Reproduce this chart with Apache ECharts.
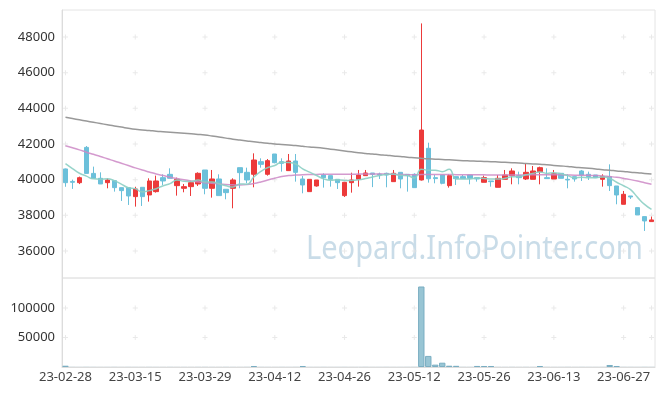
<!DOCTYPE html>
<html>
<head>
<meta charset="utf-8">
<script src="https://cdn.jsdelivr.net/npm/echarts@6/dist/echarts.min.js"></script>
<style>
html,body{margin:0;padding:0;background:#fff;}
#chart{width:665px;height:396px;}
</style>
</head>
<body>
<div id="chart"></div>
<script>
const dates = [
'23-02-28','23-03-02','23-03-03','23-03-06','23-03-07','23-03-08','23-03-09','23-03-10','23-03-13','23-03-14',
'23-03-15','23-03-16','23-03-17','23-03-20','23-03-21','23-03-22','23-03-23','23-03-24','23-03-27','23-03-28',
'23-03-29','23-03-30','23-03-31','23-04-03','23-04-04','23-04-05','23-04-06','23-04-07','23-04-10','23-04-11',
'23-04-12','23-04-13','23-04-14','23-04-17','23-04-18','23-04-19','23-04-20','23-04-21','23-04-24','23-04-25',
'23-04-26','23-04-27','23-04-28','23-05-02','23-05-03','23-05-04','23-05-08','23-05-09','23-05-10','23-05-11',
'23-05-12','23-05-15','23-05-16','23-05-17','23-05-18','23-05-19','23-05-22','23-05-23','23-05-24','23-05-25',
'23-05-26','23-05-30','23-05-31','23-06-01','23-06-02','23-06-05','23-06-07','23-06-08','23-06-09','23-06-12',
'23-06-13','23-06-14','23-06-15','23-06-16','23-06-19','23-06-20','23-06-21','23-06-22','23-06-23','23-06-26',
'23-06-27','23-06-28','23-06-29','23-06-30','23-07-03'];

const opens = [
40600,39900,39830,41810,40350,40075,39830,39944,39551,39551,
39047,39570,39140,39327,40112,40298,39663,39514,39607,39757,
40541,39514,40037,39458,39514,40672,40411,40299,41009,40299,
41439,41009,40505,41046,40037,39327,39645,40261,40224,40018,
39103,39831,40018,40224,40373,40317,40355,39887,40411,40299,
40299,39981,41758,40112,40261,39663,40168,40168,40261,40112,
39850,39925,39570,40018,40224,40224,40037,40018,40448,40112,
40037,40355,40018,40168,40486,40299,40261,40018,40168,39644,
38617,39084,38430,37925,37645];
const closes = [
39830,39850,40110,40350,40075,39757,39980,39551,39383,39084,
39476,39047,39925,39925,39925,40075,40018,39607,39831,40355,
39514,40037,39103,39271,39981,40392,39981,41102,40859,41065,
40953,40915,41046,40411,39700,40018,39981,40112,40018,39831,
39850,39981,40261,40373,40298,40261,40261,40355,40037,40224,
39551,42784,40050,40056,39794,40224,40056,40056,40074,40037,
40112,39887,40074,40261,40486,40112,40411,40486,40672,40056,
40336,40074,39981,40037,40261,40168,40112,40187,39663,39140,
39177,39028,38018,37682,37738];
const lows = [
39600,39480,39750,40350,40075,39757,39514,39327,38803,38579,
38486,38523,38766,39271,39700,40075,39102,39290,39084,39644,
39178,38990,39103,38897,38392,39514,39794,39570,40672,40224,
40915,40448,40486,39887,39233,39327,39607,39551,39607,39476,
39028,39269,39607,40224,39580,40037,39570,39887,39514,39327,
39551,39950,39831,39794,39738,39551,39700,40056,39738,39887,
39850,39607,39570,40018,39738,39738,39981,40018,39738,40056,
40037,40074,39514,39887,39925,39981,40112,39607,39364,38617,
38617,38916,38018,37121,37645];
const highs = [
40620,40000,40170,41887,40730,40410,40075,39980,39551,39551,
39600,39570,40074,40224,40298,40635,40112,39757,39925,40411,
40541,40542,40299,39458,40074,40672,40672,41476,41196,41158,
41439,41196,41439,41439,40200,40018,39981,40355,40224,40018,
39850,40390,40542,40542,40373,40392,40392,40542,40411,40299,
40355,48767,42073,40261,40261,40299,40168,40261,40261,40112,
40224,39925,40261,40542,40635,40448,40915,40766,40728,40635,
40542,40355,40299,40168,40542,40448,40261,40299,40859,39644,
39364,39084,38430,37925,37925];

const ma5 = [
40900,40620,40360,40200,40043,40028,40054,39943,39749,39551,
39495,39308,39383,39491,39660,39779,39974,39910,39891,39977,
39865,39869,39768,39656,39581,39757,39746,40145,40463,40680,
40792,40979,40968,40878,40605,40418,40231,40044,39966,39992,
39958,39958,39988,40059,40153,40235,40291,40310,40242,40228,
40086,40590,40529,40533,40447,40582,40036,40037,40041,40089,
40067,40033,40037,40074,40164,40164,40269,40351,40433,40347,
40392,40325,40224,40097,40138,40104,40112,40153,40078,39854,
39656,39439,39005,38609,38329];
const ma20 = [
41904,41790,41670,41540,41420,41300,41170,41050,40920,40790,
40660,40540,40430,40320,40230,40140,40060,39990,39930,39880,
39830,39800,39760,39730,39710,39700,39720,39780,39870,39980,
40080,40170,40230,40260,40280,40290,40295,40300,40300,40300,
40300,40300,40310,40310,40310,40310,40310,40300,40290,40280,
40270,40290,40290,40290,40290,40290,40280,40280,40280,40280,
40270,40260,40260,40260,40260,40260,40270,40270,40280,40280,
40280,40270,40260,40250,40250,40240,40230,40210,40170,40130,
40070,40000,39920,39830,39740];
const maLong = [
43497,43430,43360,43290,43220,43150,43080,43010,42950,42880,
42824,42790,42760,42720,42690,42660,42630,42600,42570,42540,
42504,42450,42390,42330,42270,42220,42170,42120,42080,42040,
41999,41970,41940,41910,41870,41830,41800,41760,41710,41660,
41610,41560,41510,41470,41439,41400,41370,41330,41300,41260,
41230,41198,41170,41150,41130,41110,41085,41065,41050,41035,
41020,41009,40990,40970,40950,40930,40900,40880,40860,40830,
40800,40770,40740,40700,40670,40637,40600,40560,40530,40490,
40460,40420,40390,40350,40317];
const volumes = [
2200,200,150,250,180,120,150,200,120,180,
150,120,180,150,120,180,120,150,120,180,
200,150,120,180,150,120,200,1700,180,150,
120,180,150,200,1700,150,120,180,120,150,
180,120,150,200,120,150,180,120,150,180,
250,136600,18800,4000,7300,2200,2000,200,180,1800,
1700,1700,180,150,200,120,180,150,1700,180,
120,150,200,120,180,150,120,180,3400,1700,
200,180,150,250,180];

const priceTicks = [36000,38000,40000,42000,44000,46000,48000];
const volumeTicks = [50000,100000];
const markCats = [0,10,20,30,40,50,60,70,80,84];

const candleData = dates.map((d,i)=>[opens[i],closes[i],lows[i],highs[i]]);
const volumeData = volumes.map(v=>({value:v,itemStyle:{borderWidth:v>1000?1:0}}));
const priceMarks = [];
markCats.forEach(c=>priceTicks.forEach(v=>priceMarks.push([c,v])));
const volMarks = [];
markCats.forEach(c=>volumeTicks.forEach(v=>volMarks.push([c,v])));

const FONT = 'Noto Sans';
const plus = 'path://M2,0h1v5h-1zM0,2h5v1h-5z';

const chart = echarts.init(document.getElementById('chart'), null, {renderer:'canvas'});
chart.setOption({
  animation:false,
  backgroundColor:'#ffffff',
  graphic:[{
    type:'text', x:306, y:233, scaleX:0.88, z:-1,
    style:{text:'Leopard.InfoPointer.com', font:'33px "Noto Sans"', fill:'rgba(165,197,216,0.6)'}
  }],
  grid:[
    {left:62,right:10,top:10,height:268,show:true,borderColor:'#e4e4e4',borderWidth:1},
    {left:62,right:10,top:278,height:89,show:true,borderColor:'#e4e4e4',borderWidth:1}
  ],
  xAxis:[
    {type:'category',gridIndex:0,data:dates,axisLine:{show:false},axisTick:{show:false},axisLabel:{show:false},splitLine:{show:false}},
    {type:'category',gridIndex:1,data:dates,axisLine:{show:true,lineStyle:{color:'#dcdcdc'}},axisTick:{show:false},
     axisLabel:{interval:9,color:'#444',fontSize:13,fontFamily:FONT,margin:4},splitLine:{show:false}}
  ],
  yAxis:[
    {type:'value',gridIndex:0,min:34480,max:49520,splitNumber:7,axisLine:{show:true,lineStyle:{color:'#dcdcdc'}},axisTick:{show:false},splitLine:{show:false},
     axisLabel:{color:'#333',fontSize:13,fontFamily:FONT,margin:7,formatter:v=>priceTicks.indexOf(v)>=0?String(v):''}},
    {type:'value',gridIndex:1,min:0,max:151000,interval:50000,axisLine:{show:true,lineStyle:{color:'#dcdcdc'}},axisTick:{show:false},splitLine:{show:false},
     axisLabel:{color:'#333',fontSize:13,fontFamily:FONT,margin:7,formatter:v=>volumeTicks.indexOf(v)>=0?String(v):''}}
  ],
  series:[
    {type:'scatter',xAxisIndex:0,yAxisIndex:0,data:priceMarks,symbol:plus,symbolSize:5,silent:true,z:1,itemStyle:{color:'#e3e3e3'}},
    {type:'scatter',xAxisIndex:1,yAxisIndex:1,data:volMarks,symbol:plus,symbolSize:5,silent:true,z:1,itemStyle:{color:'#e3e3e3'}},
    {type:'candlestick',xAxisIndex:0,yAxisIndex:0,data:candleData,barWidth:'70%',z:3,
     itemStyle:{color:'#ec3a3a',color0:'#6cc0da',borderColor:'#ec3a3a',borderColor0:'#6cc0da',borderWidth:1}},
    {type:'line',xAxisIndex:0,yAxisIndex:0,data:maLong,smooth:true,symbol:'none',z:4,lineStyle:{color:'#999999',width:1.5}},
    {type:'line',xAxisIndex:0,yAxisIndex:0,data:ma20,smooth:true,symbol:'none',z:4,lineStyle:{color:'#cc88c6',width:1.5,opacity:0.85}},
    {type:'line',xAxisIndex:0,yAxisIndex:0,data:ma5,smooth:true,symbol:'none',z:4,lineStyle:{color:'#8ccfc4',width:1.5,opacity:0.9}},
    {type:'bar',xAxisIndex:1,yAxisIndex:1,data:volumeData,barWidth:'92%',z:3,
     itemStyle:{color:'#98c5d4',borderColor:'#7aaec2'}}
  ]
});
</script>
</body>
</html>
